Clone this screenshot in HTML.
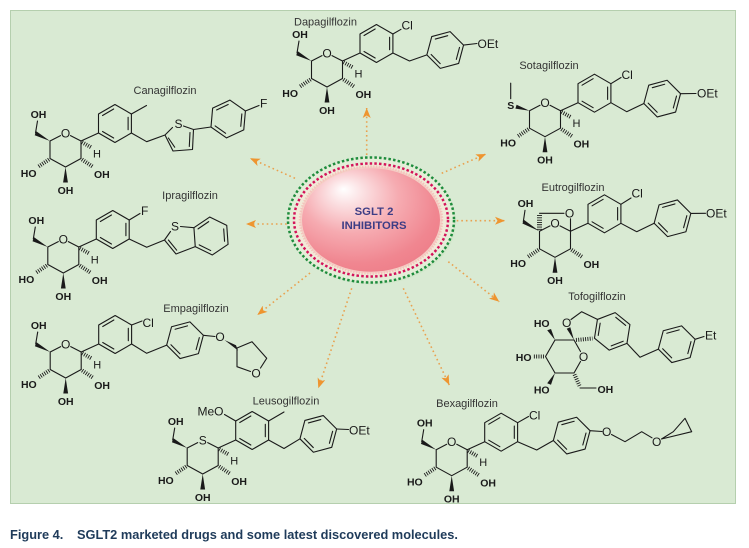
<!DOCTYPE html>
<html><head><meta charset="utf-8"><style>
html,body{margin:0;padding:0;background:#fff;}
svg{display:block;}
.b{stroke:#1a1a1a;stroke-width:1.1;fill:none;stroke-linecap:round;stroke-linejoin:round;}
.h{stroke:#1a1a1a;stroke-width:4;stroke-dasharray:0.9 1.4;fill:none;}
polygon.w{fill:#1a1a1a;}
.k{font-family:"Liberation Sans",Arial,sans-serif;font-weight:bold;font-size:10.5px;fill:#1a1a1a;}
.r{font-family:"Liberation Sans",Arial,sans-serif;font-size:12px;fill:#1a1a1a;}
.hh{font-family:"Liberation Sans",Arial,sans-serif;font-size:11px;fill:#1a1a1a;}
.n{font-family:"Liberation Sans",Arial,sans-serif;font-size:11px;fill:#333;}
.ar{stroke:#e9a14f;stroke-width:1.6;stroke-dasharray:1.6 3;fill:none;}
</style></head><body>
<svg width="749" height="548" viewBox="0 0 749 548" xmlns="http://www.w3.org/2000/svg">
<defs>
<g id="bz">
<polygon class="b" points="0,-19 16.45,-9.5 16.45,9.5 0,19 -16.45,9.5 -16.45,-9.5"/>
<path class="b" d="M-12.4,-8 L-1.3,-14.5 M13.16,-6.2 L13.16,6.2 M-1.3,14.5 L-12.4,8"/>
</g>
<g id="bzB">
<polygon class="b" points="0,-19 16.45,-9.5 16.45,9.5 0,19 -16.45,9.5 -16.45,-9.5"/>
<path class="b" d="M1.3,-14.5 L12.4,-8 M12.4,8 L1.3,14.5 M-13.16,6.2 L-13.16,-6.2"/>
</g>
<marker id="ah" markerUnits="userSpaceOnUse" markerWidth="12" markerHeight="10" refX="10" refY="4" orient="auto">
<path d="M0,0 L10,4 L0,8 L2.5,4 Z" fill="#ee9530"/>
</marker>
<radialGradient id="pg" cx="0.4" cy="0.35" r="0.7" fx="0.3" fy="0.2">
<stop offset="0" stop-color="#ffffff"/>
<stop offset="0.18" stop-color="#fbe0e2"/>
<stop offset="0.5" stop-color="#f6abb1"/>
<stop offset="0.85" stop-color="#f08690"/>
<stop offset="1" stop-color="#ee7f8a"/>
</radialGradient>
</defs>

<!-- background box -->
<rect x="10.5" y="10.5" width="725" height="493" fill="#d9ead3" stroke="#b5cfae" stroke-width="1"/>

<!-- arrows -->
<path class="ar" marker-end="url(#ah)" d="M366.7,155 L366.7,108"/>
<path class="ar" marker-end="url(#ah)" d="M295,178.3 L250,158.3"/>
<path class="ar" marker-end="url(#ah)" d="M286.7,224 L246,224"/>
<path class="ar" marker-end="url(#ah)" d="M310,273 L257.3,315"/>
<path class="ar" marker-end="url(#ah)" d="M351.7,288.3 L318.3,388.3"/>
<path class="ar" marker-end="url(#ah)" d="M403.3,288.3 L449.3,385"/>
<path class="ar" marker-end="url(#ah)" d="M448.3,261.7 L499.3,301.7"/>
<path class="ar" marker-end="url(#ah)" d="M456.7,220.7 L505,220.7"/>
<path class="ar" marker-end="url(#ah)" d="M441.7,173.3 L486,154"/>

<!-- central ellipse -->
<ellipse cx="373" cy="222" rx="83" ry="62.5" fill="#cfe6c8" opacity="0.8"/>
<ellipse cx="371" cy="220" rx="83" ry="62.5" fill="#e4eed8" stroke="#1e8c3c" stroke-width="2.5" stroke-dasharray="2.5 2.2"/>
<ellipse cx="371" cy="220" rx="77" ry="56.5" fill="#f1ead8" stroke="#d4145a" stroke-width="2.5" stroke-dasharray="2.5 2.2"/>
<ellipse cx="371" cy="220" rx="71" ry="53.5" fill="#f5cfc6" stroke="#f4c4bc" stroke-width="2.5" stroke-dasharray="1.4 1.4"/>
<ellipse cx="371" cy="220" rx="69" ry="51.7" fill="url(#pg)"/>
<text x="374" y="215" text-anchor="middle" font-family="Liberation Sans, Arial, sans-serif" font-weight="bold" font-size="11.3" fill="#3d3d85">SGLT 2</text>
<text x="374" y="229" text-anchor="middle" font-family="Liberation Sans, Arial, sans-serif" font-weight="bold" font-size="11.3" fill="#3d3d85">INHIBITORS</text>

<!-- ===== Dapagliflozin ===== -->
<text class="n" x="325.5" y="25.5" text-anchor="middle">Dapagilflozin</text>
<g transform="translate(327,53)">
<text class="r" x="0" y="4.3" text-anchor="middle">O</text>
<path class="b" d="M-5,2.6 L-15.5,8 V25.5 L0,34 L15.5,25.5 V8 L5,2.6 M15.5,8 L33,0"/>
<path class="h" d="M-16.5,26.5 L-27,33.5 M16.5,26.5 L27,33.5 M16.5,9.2 L26,14.5"/>
<polygon class="w" points="0,34 -2.4,49.5 2.4,49.5"/>
<polygon class="w" points="-15.5,8 -29.2,-1.8 -30.8,2.2"/>
<path class="b" d="M-30,0 L-28,-12"/>
<text class="k" x="-27" y="-15" text-anchor="middle">OH</text>
<text class="k" x="-29" y="43.8" text-anchor="end">HO</text>
<text class="k" x="0" y="60.8" text-anchor="middle">OH</text>
<text class="k" x="28.5" y="44.8">OH</text>
<text class="hh" x="27.5" y="24.5">H</text>
</g>
<use href="#bz" transform="translate(376.45,43.5)"/>
<path class="b" d="M392.9,34 L401,29.3 M392.9,53 L409.5,61 L426.9,54.9 M463.6,45.1 L477,43.5"/>
<text class="r" x="401.5" y="29.5">Cl</text>
<use href="#bz" transform="translate(445.2,50) rotate(15)"/>
<text class="r" x="477.5" y="47.8">OEt</text>

<!-- ===== Canagliflozin ===== -->
<text class="n" x="165" y="94" text-anchor="middle">Canagilflozin</text>
<g transform="translate(65.5,133)">
<text class="r" x="0" y="4.3" text-anchor="middle">O</text>
<path class="b" d="M-5,2.6 L-15.5,8 V25.5 L0,34 L15.5,25.5 V8 L5,2.6 M15.5,8 L33,0"/>
<path class="h" d="M-16.5,26.5 L-27,33.5 M16.5,26.5 L27,33.5 M16.5,9.2 L26,14.5"/>
<polygon class="w" points="0,34 -2.4,49.5 2.4,49.5"/>
<polygon class="w" points="-15.5,8 -29.2,-1.8 -30.8,2.2"/>
<path class="b" d="M-30,0 L-28,-12"/>
<text class="k" x="-27" y="-15" text-anchor="middle">OH</text>
<text class="k" x="-29" y="43.8" text-anchor="end">HO</text>
<text class="k" x="0" y="60.8" text-anchor="middle">OH</text>
<text class="k" x="28.5" y="44.8">OH</text>
<text class="hh" x="27.5" y="24.5">H</text>
</g>
<use href="#bz" transform="translate(114.95,123.5)"/>
<path class="b" d="M131.4,114 L146.5,105.5 M131.4,133 L146.7,141.7 L165,135 L172.5,127.5 M183.5,126 L193.5,129.5 L192.5,149.5 L173,151 L165,135 M168.4,138 L174.7,147.2 M190,132.5 L189.3,146.5 M193.5,129.5 L211,127 M245.4,111 L259,105.5"/>
<text class="r" x="178.5" y="128" text-anchor="middle">S</text>
<use href="#bz" transform="translate(228.2,119) rotate(5)"/>
<text class="r" x="260" y="107.5">F</text>

<!-- ===== Ipragliflozin ===== -->
<text class="n" x="190" y="199" text-anchor="middle">Ipragilflozin</text>
<g transform="translate(63.3,239)">
<text class="r" x="0" y="4.3" text-anchor="middle">O</text>
<path class="b" d="M-5,2.6 L-15.5,8 V25.5 L0,34 L15.5,25.5 V8 L5,2.6 M15.5,8 L33,0"/>
<path class="h" d="M-16.5,26.5 L-27,33.5 M16.5,26.5 L27,33.5 M16.5,9.2 L26,14.5"/>
<polygon class="w" points="0,34 -2.4,49.5 2.4,49.5"/>
<polygon class="w" points="-15.5,8 -29.2,-1.8 -30.8,2.2"/>
<path class="b" d="M-30,0 L-28,-12"/>
<text class="k" x="-27" y="-15" text-anchor="middle">OH</text>
<text class="k" x="-29" y="43.8" text-anchor="end">HO</text>
<text class="k" x="0" y="60.8" text-anchor="middle">OH</text>
<text class="k" x="28.5" y="44.8">OH</text>
<text class="hh" x="27.5" y="24.5">H</text>
</g>
<use href="#bz" transform="translate(112.75,229.5)"/>
<path class="b" d="M129.2,220 L140,213.5 M129.2,239 L146.7,247.3 L164.5,240 L170.5,231.5 M180.5,226.5 L193.9,227.7 M195.25,246.6 L176,254 L164.5,240 M168.4,240 L176.7,250.2"/>
<text class="r" x="141" y="215">F</text>
<text class="r" x="175" y="230.3" text-anchor="middle">S</text>
<use href="#bz" transform="translate(211,236) rotate(-4)"/>

<!-- ===== Empagliflozin ===== -->
<text class="n" x="196" y="312" text-anchor="middle">Empagilflozin</text>
<g transform="translate(65.7,344)">
<text class="r" x="0" y="4.3" text-anchor="middle">O</text>
<path class="b" d="M-5,2.6 L-15.5,8 V25.5 L0,34 L15.5,25.5 V8 L5,2.6 M15.5,8 L33,0"/>
<path class="h" d="M-16.5,26.5 L-27,33.5 M16.5,26.5 L27,33.5 M16.5,9.2 L26,14.5"/>
<polygon class="w" points="0,34 -2.4,49.5 2.4,49.5"/>
<polygon class="w" points="-15.5,8 -29.2,-1.8 -30.8,2.2"/>
<path class="b" d="M-30,0 L-28,-12"/>
<text class="k" x="-27" y="-15" text-anchor="middle">OH</text>
<text class="k" x="-29" y="43.8" text-anchor="end">HO</text>
<text class="k" x="0" y="60.8" text-anchor="middle">OH</text>
<text class="k" x="28.5" y="44.8">OH</text>
<text class="hh" x="27.5" y="24.5">H</text>
</g>
<use href="#bz" transform="translate(115.15,334.5)"/>
<path class="b" d="M131.6,325 L142,321 M131.6,344 L146.7,353.3 L166.7,345.1 M203.35,335.3 L215,336.5"/>
<text class="r" x="142.5" y="327">Cl</text>
<use href="#bz" transform="translate(185,340.2) rotate(15)"/>
<text class="r" x="220" y="341" text-anchor="middle">O</text>
<polygon class="w" points="224.5,340 236,345.3 238,350.5"/>
<path class="b" d="M237,348 L252,341.7 L266.7,358.3 L260.5,368 M237,348 L237,366.7 L250.5,371.5"/>
<text class="r" x="256" y="377.6" text-anchor="middle">O</text>

<!-- ===== Leusogliflozin ===== -->
<text class="n" x="286" y="404.5" text-anchor="middle">Leusogilflozin</text>
<g transform="translate(202.7,440)">
<text class="r" x="0" y="4.3" text-anchor="middle">S</text>
<path class="b" d="M-5,2.6 L-15.5,8 V25.5 L0,34 L15.5,25.5 V8 L5,2.6 M15.5,8 L33,0"/>
<path class="h" d="M-16.5,26.5 L-27,33.5 M16.5,26.5 L27,33.5 M16.5,9.2 L26,14.5"/>
<polygon class="w" points="0,34 -2.4,49.5 2.4,49.5"/>
<polygon class="w" points="-15.5,8 -29.2,-1.8 -30.8,2.2"/>
<path class="b" d="M-30,0 L-28,-12"/>
<text class="k" x="-27" y="-15" text-anchor="middle">OH</text>
<text class="k" x="-29" y="43.8" text-anchor="end">HO</text>
<text class="k" x="0" y="60.8" text-anchor="middle">OH</text>
<text class="k" x="28.5" y="44.8">OH</text>
<text class="hh" x="27.5" y="24.5">H</text>
</g>
<use href="#bz" transform="translate(252.15,430.5)"/>
<path class="b" d="M235.7,421 L224.5,414.5 M268.6,421 L284,412 M268.6,440 L284,448.5 L300,438.8 M336.65,429 L348.5,429.5"/>
<text class="r" x="223.5" y="415.5" text-anchor="end">MeO</text>
<use href="#bz" transform="translate(318.3,433.9) rotate(15)"/>
<text class="r" x="349" y="434.3">OEt</text>

<!-- ===== Bexagliflozin ===== -->
<text class="n" x="467" y="407" text-anchor="middle">Bexagilflozin</text>
<g transform="translate(451.7,441.7)">
<text class="r" x="0" y="4.3" text-anchor="middle">O</text>
<path class="b" d="M-5,2.6 L-15.5,8 V25.5 L0,34 L15.5,25.5 V8 L5,2.6 M15.5,8 L33,0"/>
<path class="h" d="M-16.5,26.5 L-27,33.5 M16.5,26.5 L27,33.5 M16.5,9.2 L26,14.5"/>
<polygon class="w" points="0,34 -2.4,49.5 2.4,49.5"/>
<polygon class="w" points="-15.5,8 -29.2,-1.8 -30.8,2.2"/>
<path class="b" d="M-30,0 L-28,-12"/>
<text class="k" x="-27" y="-15" text-anchor="middle">OH</text>
<text class="k" x="-29" y="43.8" text-anchor="end">HO</text>
<text class="k" x="0" y="60.8" text-anchor="middle">OH</text>
<text class="k" x="28.5" y="44.8">OH</text>
<text class="hh" x="27.5" y="24.5">H</text>
</g>
<use href="#bz" transform="translate(501.15,432.2)"/>
<path class="b" d="M517.6,422.7 L528.5,416.5 M517.6,441.7 L536.7,450 L553.4,440.5 M590.05,430.7 L602,431.5 M611.5,434.5 L625,441.7 L641.7,431.7 L652,437.8 M661.5,439 L673.3,431.7 L685,418.3 L691.7,431.7 Z"/>
<text class="r" x="529" y="419.5">Cl</text>
<use href="#bz" transform="translate(571.7,435.6) rotate(15)"/>
<text class="r" x="606.7" y="436" text-anchor="middle">O</text>
<text class="r" x="656.7" y="446" text-anchor="middle">O</text>

<!-- ===== Sotagliflozin ===== -->
<text class="n" x="549" y="69" text-anchor="middle">Sotagilflozin</text>
<g transform="translate(545,102.7)">
<text class="r" x="0" y="4.3" text-anchor="middle">O</text>
<path class="b" d="M-5,2.6 L-15.5,8 V25.5 L0,34 L15.5,25.5 V8 L5,2.6 M15.5,8 L33,0"/>
<path class="h" d="M-16.5,26.5 L-27,33.5 M16.5,26.5 L27,33.5 M16.5,9.2 L26,14.5"/>
<polygon class="w" points="0,34 -2.4,49.5 2.4,49.5"/>
<polygon class="w" points="-15.5,8 -28.4,2.1 -29.6,5.9"/>
<path class="b" d="M-34.3,-4 L-34.3,-19.5"/>
<text class="k" x="-34.3" y="6.2" text-anchor="middle">S</text>
<text class="k" x="-29" y="43.8" text-anchor="end">HO</text>
<text class="k" x="0" y="60.8" text-anchor="middle">OH</text>
<text class="k" x="28.5" y="44.8">OH</text>
<text class="hh" x="27.5" y="24.5">H</text>
</g>
<use href="#bz" transform="translate(594.45,93.2)"/>
<path class="b" d="M610.9,83.7 L621,77.5 M610.9,102.7 L626.7,111.7 L643.9,103.5 M680.55,93.7 L696,93.5"/>
<text class="r" x="621.5" y="79">Cl</text>
<use href="#bz" transform="translate(662.2,98.6) rotate(15)"/>
<text class="r" x="697" y="97.6">OEt</text>

<!-- ===== Eutrogliflozin ===== -->
<text class="n" x="573" y="191" text-anchor="middle">Eutrogilflozin</text>
<g transform="translate(555,223.3)">
<text class="r" x="0" y="4.3" text-anchor="middle">O</text>
<path class="b" d="M-5,2.6 L-15.5,8 V25.5 L0,34 L15.5,25.5 V8 L5,2.6 M15.5,8 L33,0"/>
<path class="h" d="M-16.5,26.5 L-27,33.5 M16.5,26.5 L27,33.5"/>
<polygon class="w" points="0,34 -2.4,49.5 2.4,49.5"/>
<polygon class="w" points="-15.5,8 -31,-3.4 -32.6,0.2"/>
<path class="b" d="M-31.7,-1.6 L-30,-13"/>
<text class="k" x="-29.5" y="-16.3" text-anchor="middle">OH</text>
<path class="h" d="M-15.5,6.5 L-15.5,-9" style="stroke-width:5"/>
<path class="b" d="M-15.5,-10 L9,-10 M15.5,-4.5 L15.5,8"/>
<text class="r" x="14.5" y="-5.7" text-anchor="middle">O</text>
<text class="k" x="-29" y="43.8" text-anchor="end">HO</text>
<text class="k" x="0" y="60.8" text-anchor="middle">OH</text>
<text class="k" x="28.5" y="44.8">OH</text>
</g>
<use href="#bz" transform="translate(604.45,213.8)"/>
<path class="b" d="M620.9,204.3 L631,198 M620.9,223.3 L636.7,231.7 L654.2,223.2 M690.85,213.4 L705.5,213.3"/>
<text class="r" x="631.5" y="197.6">Cl</text>
<use href="#bz" transform="translate(672.5,218.3) rotate(15)"/>
<text class="r" x="706" y="217.6">OEt</text>

<!-- ===== Tofogliflozin ===== -->
<text class="n" x="597" y="300" text-anchor="middle">Tofogilflozin</text>
<path class="b" d="M574,340 L580.5,351.5 M580.5,361.5 L574,373 L555,373 L545.5,356.5 L555,340 L574,340"/>
<text class="r" x="583.5" y="360.8" text-anchor="middle">O</text>
<polygon class="w" points="555,340 547.2,330.3 551,329"/>
<text class="k" x="541.7" y="327" text-anchor="middle">HO</text>
<path class="h" d="M544,356.5 L533.5,356.5"/>
<text class="k" x="531.5" y="361" text-anchor="end">HO</text>
<polygon class="w" points="555,373 547.2,383.2 551,384.7"/>
<text class="k" x="541.7" y="393.7" text-anchor="middle">HO</text>
<path class="h" d="M574.5,374.5 L580,387"/>
<path class="b" d="M580,388 L596,388"/>
<text class="k" x="597.5" y="393">OH</text>
<polygon class="w" points="574,340 566.7,328.8 570.3,327.2"/>
<text class="r" x="566.7" y="327" text-anchor="middle">O</text>
<path class="b" d="M571,319.5 L581.7,311.7 L597.4,319.4"/>
<path class="h" d="M576,340 L592.5,338.5"/>
<use href="#bzB" transform="translate(612.2,331.4) rotate(9)"/>
<path class="b" d="M627,343.4 L640,357.3 L658.4,349.1 M695.05,339.3 L704,336.5"/>
<use href="#bz" transform="translate(676.7,344.2) rotate(15)"/>
<text class="r" x="705" y="339.5">Et</text>

<!-- caption -->
<text x="10" y="539" font-family="Liberation Sans, Arial, sans-serif" font-weight="bold" font-size="12.8" fill="#1f3b5a">Figure 4.</text>
<text x="77" y="539" font-family="Liberation Sans, Arial, sans-serif" font-weight="bold" font-size="12.8" fill="#1f3b5a">SGLT2 marketed drugs and some latest discovered molecules.</text>
</svg>
</body></html>
